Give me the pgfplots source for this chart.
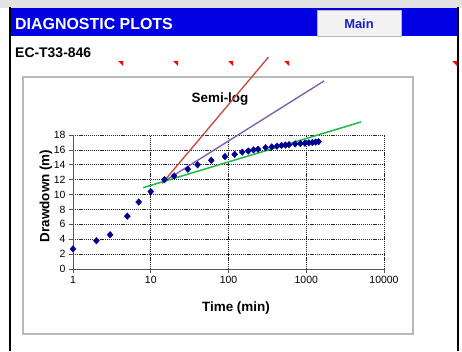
\documentclass[border=0pt]{standalone}
\usepackage{fontspec}
\setmainfont{Liberation Sans}
\usepackage{pgfplots}
\pgfplotsset{compat=1.18}

\definecolor{hdrblue}{RGB}{0,0,226}
\definecolor{mainblue}{RGB}{30,30,200}
\definecolor{ptblue}{RGB}{0,0,145}
\definecolor{exred}{RGB}{200,80,72}
\definecolor{expurple}{RGB}{128,100,170}
\definecolor{exgreen}{RGB}{30,185,70}

% pumping test: time (min), drawdown (m)
\pgfplotstableread{
t     s
1     2.7
2     3.8
3     4.6
5     7.1
7     9.0
10    10.4
15    12.0
20    12.5
30    13.4
40    14.0
60    14.6
90    15.1
120   15.4
150   15.7
180   15.85
210   16.0
240   16.1
300   16.3
360   16.4
420   16.5
480   16.6
540   16.65
600   16.7
720   16.8
840   16.85
960   16.9
1080  16.95
1200  17.0
1320  17.05
1440  17.1
}\drawdown

\begin{document}
\begin{tikzpicture}[x=1bp,y=1bp]
\useasboundingbox (0,0) rectangle (462,351);
\fill[white] (0,0) rectangle (462,351);
% sheet header
\fill[gray!22] (0,343) rectangle (462,351);
\fill[hdrblue] (11,315) rectangle (457,343);
\draw[black, line width=2.5bp] (10,0) -- (10,344);
\draw[black, line width=2.5bp] (458,0) -- (458,344);
\fill[gray!10] (317,315) rectangle (401,341);
\draw[gray!55] (317,315) rectangle (401,341);
\node[text=mainblue, font=\bfseries\fontsize{13}{15}\selectfont] at (359,327) {Main};
\node[anchor=base west, inner sep=0, text=white, font=\bfseries\fontsize{16}{18}\selectfont] at (15,321.5) {DIAGNOSTIC PLOTS};
\node[anchor=base west, inner sep=0, font=\bfseries\fontsize{14}{16}\selectfont] at (15,294) {EC-T33-846};
\foreach \xx in {123,178,233,289,457}
  \fill[red] (\xx-5,290) -- (\xx,290) -- (\xx,285) -- cycle;
% chart area
\draw[gray!55, line width=1.2bp, fill=white] (23,17) rectangle (413,274);
\node[anchor=base, font=\bfseries\fontsize{13.5}{15}\selectfont] at (220,249) {Semi-log};

\begin{axis}[
  at={(73bp,82bp)}, anchor=south west,
  scale only axis, width=311bp, height=134bp,
  xmode=log, xmin=1, xmax=10000, ymin=0, ymax=18,
  xtick={1,10,100,1000,10000}, xticklabels={1,10,100,1000,10000},
  ytick={0,2,...,18},
  xminorticks=false,
  axis lines=left, axis line style={-, gray!65!black, line width=0.8bp},
  tick align=outside, major tick length=4bp,
  tick style={gray!65!black, line width=0.6bp},
  grid=major,
  major grid style={black!85, line width=0.75bp, dash pattern=on 1.2bp off 0.9bp},
  ticklabel style={font=\fontsize{10.5}{12}\selectfont},
  /pgf/number format/assume math mode=true,
  clip=false,
  xlabel={Time (min)}, ylabel={Drawdown (m)},
  label style={font=\bfseries\fontsize{13.5}{15}\selectfont},
  xlabel style={at={(axis description cs:0.524,-0.319)}, anchor=base},
  ylabel style={at={(axis description cs:-0.076,0.545)}, anchor=base},
]
\addplot[only marks, mark=diamond*, mark size=3.3bp, mark options={xscale=1.2}, color=ptblue] table[x=t, y=s] {\drawdown};
% fitted straight lines
\addplot[exred, line width=1.4bp] coordinates {(14,11.5) (326,28.45)};
\addplot[expurple, line width=1.4bp] coordinates {(14.5,11.7) (1700,25.27)};
\addplot[exgreen, line width=1.5bp] coordinates {(8,10.93) (5090,19.76)};
\end{axis}
\end{tikzpicture}
\end{document}
